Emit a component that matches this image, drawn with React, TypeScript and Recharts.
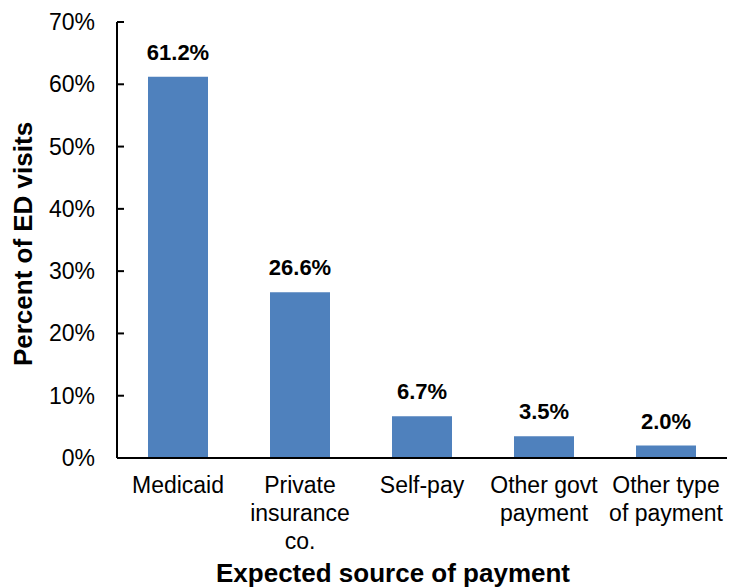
import React from 'react';
import { BarChart, Bar, XAxis, YAxis, LabelList, Label } from 'recharts';

const categories = ['Medicaid', 'Private\ninsurance\nco.', 'Self-pay', 'Other govt\npayment', 'Other type\nof payment'];
const percents = [61.2, 26.6, 6.7, 3.5, 2.0];
const yTicks = [0, 10, 20, 30, 40, 50, 60, 70];

const data = categories.map((name, i) => ({ name, value: percents[i] }));

const FONT = 'Liberation Sans, Arial, sans-serif';

function XTick(props: any) {
  const { x, y, payload } = props;
  const lines = String(payload.value).split('\n');
  return (
    <text x={x} y={y + 35} textAnchor="middle" fontFamily={FONT} fontSize={23} fill="#000">
      {lines.map((line, i) => (
        <tspan key={i} x={x} dy={i === 0 ? 0 : 28}>{line}</tspan>
      ))}
    </text>
  );
}

function YTick(props: any) {
  const { x, y, payload } = props;
  return (
    <g>
      <line x1={x} x2={x + 7} y1={y} y2={y} stroke="#000" strokeWidth={2} />
      <text x={x - 22} y={y + 8} textAnchor="end" fontFamily={FONT} fontSize={23} fill="#000">
        {payload.value}%
      </text>
    </g>
  );
}

export default function App() {
  return (
    <div style={{ position: 'absolute', left: 0, top: 0, background: '#fff' }}>
      <BarChart
        width={741}
        height={588}
        data={data}
        margin={{ top: 22, right: 14, left: 0, bottom: 0 }}
        barSize={60}
      >
        <XAxis
          dataKey="name"
          height={130}
          tickLine={false}
          tickSize={0}
          tickMargin={0}
          interval={0}
          tick={<XTick />}
          axisLine={{ stroke: '#000', strokeWidth: 2 }}
        >
          <Label
            content={({ viewBox }: any) => (
              <text
                x={viewBox.x + viewBox.width / 2 - 29}
                y={viewBox.y + 124}
                textAnchor="middle"
                fontFamily={FONT}
                fontSize={26}
                fontWeight="bold"
                fill="#000"
              >
                Expected source of payment
              </text>
            )}
          />
        </XAxis>
        <YAxis
          width={117}
          domain={[0, 70]}
          ticks={yTicks}
          interval={0}
          tickLine={false}
          tickSize={0}
          tickMargin={0}
          tick={<YTick />}
          axisLine={{ stroke: '#000', strokeWidth: 2 }}
        >
          <Label
            content={({ viewBox }: any) => {
              const cx = 23;
              const cy = viewBox.y + viewBox.height / 2 + 4;
              return (
                <text
                  x={cx}
                  y={cy}
                  transform={`rotate(-90, ${cx}, ${cy})`}
                  textAnchor="middle"
                  dominantBaseline="central"
                  fontFamily={FONT}
                  fontSize={26}
                  fontWeight="bold"
                  fill="#000"
                >
                  Percent of ED visits
                </text>
              );
            }}
          />
        </YAxis>
        <Bar dataKey="value" fill="#4F81BD" isAnimationActive={false}>
          <LabelList
            dataKey="value"
            position="top"
            offset={17}
            formatter={(v: any) => `${Number(v).toFixed(1)}%`}
            style={{ fontFamily: FONT, fontSize: 22, fontWeight: 'bold', fill: '#000' }}
          />
        </Bar>
      </BarChart>
    </div>
  );
}
